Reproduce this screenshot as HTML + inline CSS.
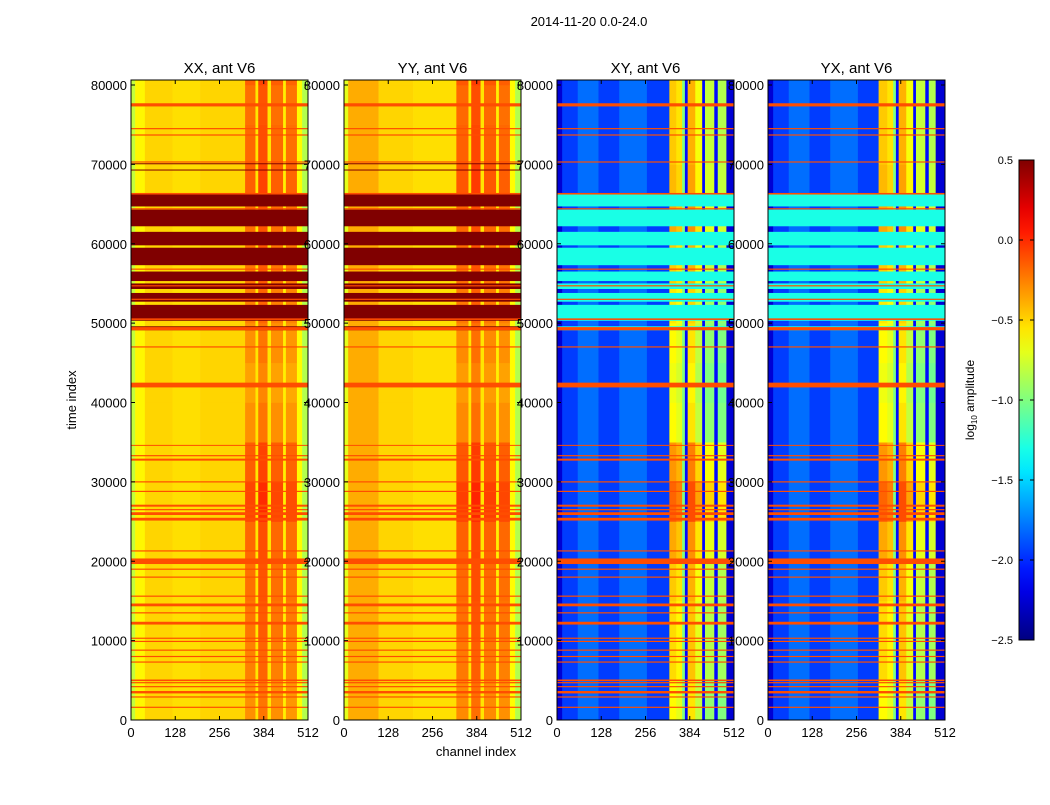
<!DOCTYPE html>
<html><head><meta charset="utf-8"><style>
body{margin:0;background:#fff;font-family:"Liberation Sans",sans-serif;}
svg text{font-family:"Liberation Sans",sans-serif;}
</style></head><body>
<svg id="fig" width="1050" height="800" viewBox="0 0 1050 800" xmlns="http://www.w3.org/2000/svg"></svg>
<script>
// ---- data ----
const panelTitles = ["XX, ant V6","YY, ant V6","XY, ant V6","YX, ant V6"];
const xTicks = [0,128,256,384,512];
const yTicks = [0,10000,20000,30000,40000,50000,60000,70000,80000];
const cbTicks = [0.5,0.0,-0.5,-1.0,-1.5,-2.0,-2.5];
const cbLabels = ["0.5","0.0","\u22120.5","\u22121.0","\u22121.5","\u22122.0","\u22122.5"];
// channel segments [startChan, endChan, log10 amplitude, isRFI]
const xxProfile = [[0,12,-0.8,0],[12,40,-0.6,0],[40,120,-0.5,0],[120,200,-0.53,0],[200,330,-0.5,0],[330,360,-0.3,1],[360,368,-0.55,0],[368,395,-0.22,1],[395,405,-0.55,0],[405,440,-0.3,1],[440,448,-0.58,0],[448,480,-0.32,1],[480,495,-0.62,0],[495,512,-0.85,0]];
const yyProfile = [[0,12,-0.7,0],[12,100,-0.38,0],[100,200,-0.5,0],[200,325,-0.53,0],[325,360,-0.28,1],[360,368,-0.55,0],[368,395,-0.2,1],[395,405,-0.55,0],[405,440,-0.28,1],[440,448,-0.58,0],[448,480,-0.3,1],[480,495,-0.62,0],[495,512,-0.85,0]];
const xyProfile = [[0,15,-2.25,0],[15,60,-1.95,0],[60,120,-1.8,0],[120,180,-1.95,0],[180,260,-1.8,0],[260,325,-1.95,0],[325,345,-0.62,1],[345,362,-0.7,1],[362,370,-1.0,0],[370,378,-2.1,0],[378,400,-0.55,1],[400,420,-0.8,1],[420,428,-2.1,0],[428,455,-0.95,1],[455,465,-2.1,0],[465,490,-1.0,1],[490,512,-2.25,0]];
const yxProfile = [[0,15,-2.25,0],[15,60,-1.95,0],[60,120,-1.8,0],[120,180,-1.95,0],[180,260,-1.8,0],[260,320,-1.95,0],[320,345,-0.62,1],[345,362,-0.7,1],[362,370,-1.0,0],[370,378,-2.1,0],[378,400,-0.55,1],[400,420,-0.8,1],[420,428,-2.1,0],[428,455,-0.95,1],[455,465,-2.1,0],[465,485,-1.0,1],[485,512,-2.25,0]];
// time modulation of RFI channels, per 5000-index bin
const xxTimeMod = [0.0,0.05,0.08,0.1,0.12,0.22,0.15,0.0,-0.05,0.0,0.05,0.08,0.1,0.15,0.12,0.1,0.15];
const xyTimeMod = [0.0,0.1,0.1,0.15,0.25,0.45,0.3,0.0,-0.05,0.0,0.05,0.15,0.25,0.2,0.15,0.15,0.15];
// saturated blocks [start,end]
const blockBands = [[49100,49600],[50300,52300],[52700,53800],[54300,55000],[55300,56500],[57300,59500],[59800,61500],[62200,64300],[64700,66300]];
const blockValueXX = 0.5;
const blockValueXY = -1.3;
// flagged rows [time, width]
const flagLines = [[77500,400],[74500,150],[73700,150],[70300,150],[66300,200],[64400,150],[56800,150],[54700,150],[53000,150],[50500,200],[49300,400],[47000,150],[42200,600],[34600,120],[33300,150],[32800,250],[30000,150],[28800,150],[27000,250],[26500,150],[26000,350],[25300,350],[21300,150],[20000,700],[19000,150],[18000,150],[15600,150],[14500,350],[13500,150],[12200,350],[10300,150],[9900,150],[8800,150],[8000,150],[7300,150],[5000,200],[4700,150],[4200,150],[3500,300],[2900,150],[1600,150]];
const flagValue = -0.1;
const darkLines = [[69300,100],[70100,80]];
const darkValue = 0.5;

const panelX = [131,344,557,768];
const panelW = 177;
const plotTop = 80, plotBottom = 720, tMax = 80630;
const vMin = -2.5, vMax = 0.5;

function jet(v){
  let x=(v-vMin)/(vMax-vMin); x=Math.max(0,Math.min(1,x));
  const c=t=>Math.round(255*Math.max(0,Math.min(1,t)));
  return `rgb(${c(1.5-Math.abs(4*x-3))},${c(1.5-Math.abs(4*x-2))},${c(1.5-Math.abs(4*x-1))})`;
}
const svg=document.getElementById('fig');
const NS="http://www.w3.org/2000/svg";
function mk(tag,attrs,parent){const e=document.createElementNS(NS,tag);for(const k in attrs)e.setAttribute(k,attrs[k]);(parent||svg).appendChild(e);return e;}
function xScale(p,ch){return panelX[p]+ch/512*panelW;}
function yScale(t){return plotBottom-t/tMax*(plotBottom-plotTop);}

const profiles=[xxProfile,yyProfile,xyProfile,yxProfile];
const mods=[xxTimeMod,xxTimeMod,xyTimeMod,xyTimeMod];
const blockVals=[blockValueXX,blockValueXX,blockValueXY,blockValueXY];

profiles.forEach((prof,p)=>{
  const g=mk('g',{});
  
  
  const mod=mods[p];
  mod.forEach((m,i)=>{
    const t0=i*5000, t1=Math.min((i+1)*5000,tMax);
    prof.forEach(s=>{
      const v=s[2]+(s[3]?m:0);
      const r=mk('rect',{x:xScale(p,s[0]),y:yScale(t1),width:xScale(p,s[1])-xScale(p,s[0])+0.3,height:yScale(t0)-yScale(t1)+0.3,fill:jet(v)},g);
      
      
    });
  });
  blockBands.forEach(b=>{
    const r=mk('rect',{x:xScale(p,0),y:yScale(b[1]),width:panelW,height:yScale(b[0])-yScale(b[1]),fill:jet(blockVals[p])},g);
    
    
  });
  flagLines.forEach(f=>{
    const r=mk('rect',{x:xScale(p,0),y:yScale(f[0]+f[1]/2),width:panelW,height:Math.max(1,yScale(f[0]-f[1]/2)-yScale(f[0]+f[1]/2)),fill:jet(flagValue)},g);
    
    
  });
  if(p<2) darkLines.forEach(f=>{
    const r=mk('rect',{x:xScale(p,0),y:yScale(f[0]+f[1]/2),width:panelW,height:1,fill:jet(darkValue)},g);
    
    
  });
  const fr=mk('rect',{x:panelX[p],y:plotTop,width:panelW,height:plotBottom-plotTop,fill:'none',stroke:'#000','stroke-width':1});
  
  
  const tt=mk('text',{x:panelX[p]+panelW/2,y:73,'text-anchor':'middle','font-size':15});
  tt.textContent=panelTitles[p];
  
  
  xTicks.forEach(c=>{
    const x=xScale(p,c);
    mk('line',{x1:x,x2:x,y1:plotBottom,y2:plotBottom-4,stroke:'#000'});
    mk('line',{x1:x,x2:x,y1:plotTop,y2:plotTop+4,stroke:'#000'});
    const l=mk('text',{x:x,y:737,'text-anchor':'middle','font-size':13});
    l.textContent=c;
    
    
  });
  yTicks.forEach(t=>{
    const y=yScale(t);
    mk('line',{x1:panelX[p],x2:panelX[p]+4,y1:y,y2:y,stroke:'#000'});
    mk('line',{x1:panelX[p]+panelW,x2:panelX[p]+panelW-4,y1:y,y2:y,stroke:'#000'});
    const l=mk('text',{x:panelX[p]-4,y:y+5,'text-anchor':'end','font-size':13});
    l.textContent=t;
    
    
  });
});

let e=mk('text',{x:589,y:26,'text-anchor':'middle','font-size':13});e.textContent="2014-11-20 0.0-24.0";

e=mk('text',{x:476,y:756,'text-anchor':'middle','font-size':13});e.textContent="channel index";

e=mk('text',{x:0,y:0,'text-anchor':'middle','font-size':13,transform:'translate(76,400) rotate(-90)'});e.textContent="time index";


const defs=mk('defs',{});
const grad=mk('linearGradient',{id:'jetg',x1:0,y1:1,x2:0,y2:0},defs);
for(let i=0;i<=20;i++){const v=vMin+(vMax-vMin)*i/20;mk('stop',{offset:i/20,'stop-color':jet(v)},grad);}
const cbTop=160, cbBot=640, cbX=1019, cbW=15;
e=mk('rect',{x:cbX,y:cbTop,width:cbW,height:cbBot-cbTop,fill:'url(#jetg)',stroke:'#000'});

cbTicks.forEach((v,i)=>{
  const y=cbBot-(v-vMin)/(vMax-vMin)*(cbBot-cbTop);
  mk('line',{x1:cbX,x2:cbX+4,y1:y,y2:y,stroke:'#000'});
  mk('line',{x1:cbX+cbW,x2:cbX+cbW-4,y1:y,y2:y,stroke:'#000'});
  const l=mk('text',{x:1013,y:y+4,'text-anchor':'end','font-size':11});
  l.textContent=cbLabels[i];
  
  
});
e=mk('text',{x:0,y:0,'text-anchor':'middle','font-size':12,transform:'translate(974,400) rotate(-90)'});
e.innerHTML='log<tspan font-size="8" dy="3">10</tspan><tspan dy="-3"> amplitude</tspan>';

</script>
</body></html>
